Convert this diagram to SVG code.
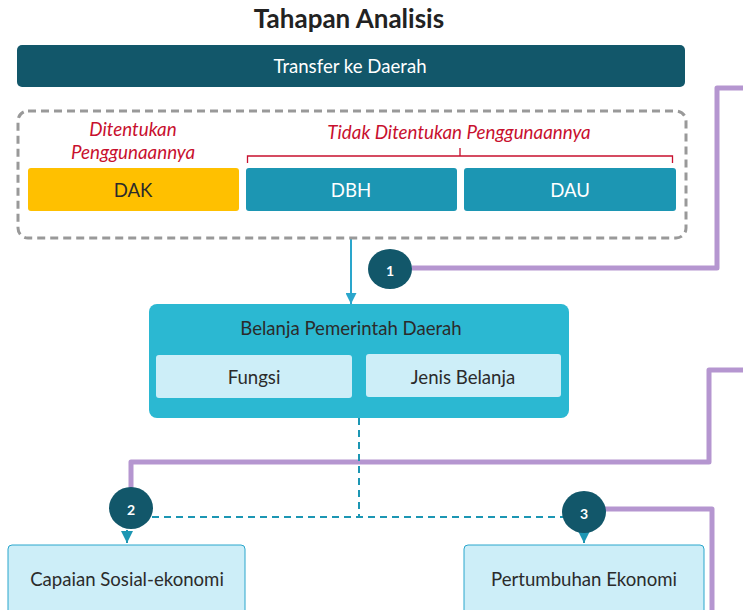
<svg xmlns="http://www.w3.org/2000/svg" width="743" height="610" viewBox="0 0 743 610">
<defs>
<style>
text{font-family:Lato,"Open Sans","Liberation Sans",sans-serif;text-anchor:middle;dominant-baseline:central}
.t{font-size:18.6px;fill:#2b2b2b}
.w{font-size:18.6px;fill:#ffffff}
.red{font-size:18.8px;fill:#c8102e;font-style:italic}
.num{font-size:14px;fill:#ffffff;font-weight:bold}
.dark{fill:#12576a}
.mid{fill:#1c96b3}
.light{fill:#cdeef8}
.purple{fill:none;stroke:#b596d0;stroke-width:5;stroke-linejoin:round}
.blue{fill:none;stroke:#2aa6cc;stroke-width:2}
.dash{fill:none;stroke:#1c96b3;stroke-width:2;stroke-dasharray:7 5}
</style>
<marker id="ah" viewBox="0 0 10 10" refX="10" refY="5" markerWidth="11" markerHeight="11" markerUnits="userSpaceOnUse" orient="auto">
<path d="M0,0 L10,5 L0,10 z" fill="#2aa6cc"/>
</marker>
<marker id="ah2" viewBox="0 0 10 10" refX="10" refY="5" markerWidth="12" markerHeight="12" markerUnits="userSpaceOnUse" orient="auto">
<path d="M0,0 L10,5 L0,10 z" fill="#1c96b3"/>
</marker>
</defs>
<rect width="743" height="610" fill="#ffffff"/>
<text x="349" y="18" style="font-size:26px;font-weight:bold;fill:#222">Tahapan Analisis</text>

<g id="connectors">
<path class="purple" d="M412,268 H717 V88 H745"/>
<path class="purple" d="M745,370 H709 V462 H131 V488"/>
<path class="purple" d="M605,509 H712 V612"/>
<path class="blue" d="M351,238 V304" marker-end="url(#ah)"/>
<path class="dash" d="M359,418 V517"/>
<path class="dash" d="M152,517 H565"/>
<path fill="none" stroke="#1c96b3" stroke-width="2" d="M127,530 V543" marker-end="url(#ah2)"/>
<path fill="none" stroke="#1c96b3" stroke-width="2" d="M584,533 V543" marker-end="url(#ah2)"/>
</g>

<g id="transfer">
<rect class="dark" x="17" y="45" width="668" height="42" rx="5"/>
<text class="w" x="350" y="66">Transfer ke Daerah</text>
</g>

<g id="group-box">
<rect x="18" y="111" width="668" height="127" rx="10" fill="none" stroke="#999" stroke-width="3" stroke-dasharray="8 5"/>
</g>

<g id="label-ditentukan">
<text class="red" x="133" y="128">Ditentukan</text>
<text class="red" x="133" y="151">Penggunaannya</text>
</g>

<g id="label-tidak">
<text class="red" x="459" y="131">Tidak Ditentukan Penggunaannya</text>
<path d="M247.5,163 V156 H672.5 V163 M460,156 V148" fill="none" stroke="#c8102e" stroke-width="1.3"/>
</g>

<g id="dak">
<rect x="28" y="168" width="211" height="43" rx="3" fill="#ffc000"/>
<text class="t" x="133" y="190">DAK</text>
</g>
<g id="dbh">
<rect class="mid" x="246" y="168" width="211" height="43" rx="3"/>
<text class="w" x="351" y="190">DBH</text>
</g>
<g id="dau">
<rect class="mid" x="464" y="168" width="212" height="43" rx="3"/>
<text class="w" x="570" y="190">DAU</text>
</g>

<g id="belanja">
<rect x="149" y="304" width="420" height="114" rx="8" fill="#2bb8d2"/>
<text class="t" x="351" y="328">Belanja Pemerintah Daerah</text>
</g>
<g id="fungsi">
<rect class="light" x="156" y="355" width="196" height="43" rx="3"/>
<text class="t" x="254" y="377">Fungsi</text>
</g>
<g id="jenis">
<rect class="light" x="366" y="354" width="195" height="43" rx="3"/>
<text class="t" x="463" y="377">Jenis Belanja</text>
</g>

<g id="circle1">
<ellipse class="dark" cx="390" cy="269" rx="22" ry="20"/>
<text class="num" x="390" y="270">1</text>
</g>
<g id="circle2">
<ellipse class="dark" cx="131" cy="508" rx="22" ry="21"/>
<text class="num" x="131" y="509">2</text>
</g>
<g id="circle3">
<ellipse class="dark" cx="584" cy="512" rx="22" ry="21"/>
<text class="num" x="584" y="513">3</text>
</g>

<g id="capaian">
<rect x="8" y="545" width="237" height="72" rx="4" fill="#cdeef8" stroke="#2aa6cc" stroke-width="1"/>
<text class="t" x="127" y="579">Capaian Sosial-ekonomi</text>
</g>
<g id="pertumbuhan">
<rect x="464" y="545" width="240" height="72" rx="4" fill="#cdeef8" stroke="#2aa6cc" stroke-width="1"/>
<text class="t" x="584" y="579">Pertumbuhan Ekonomi</text>
</g>
</svg>
